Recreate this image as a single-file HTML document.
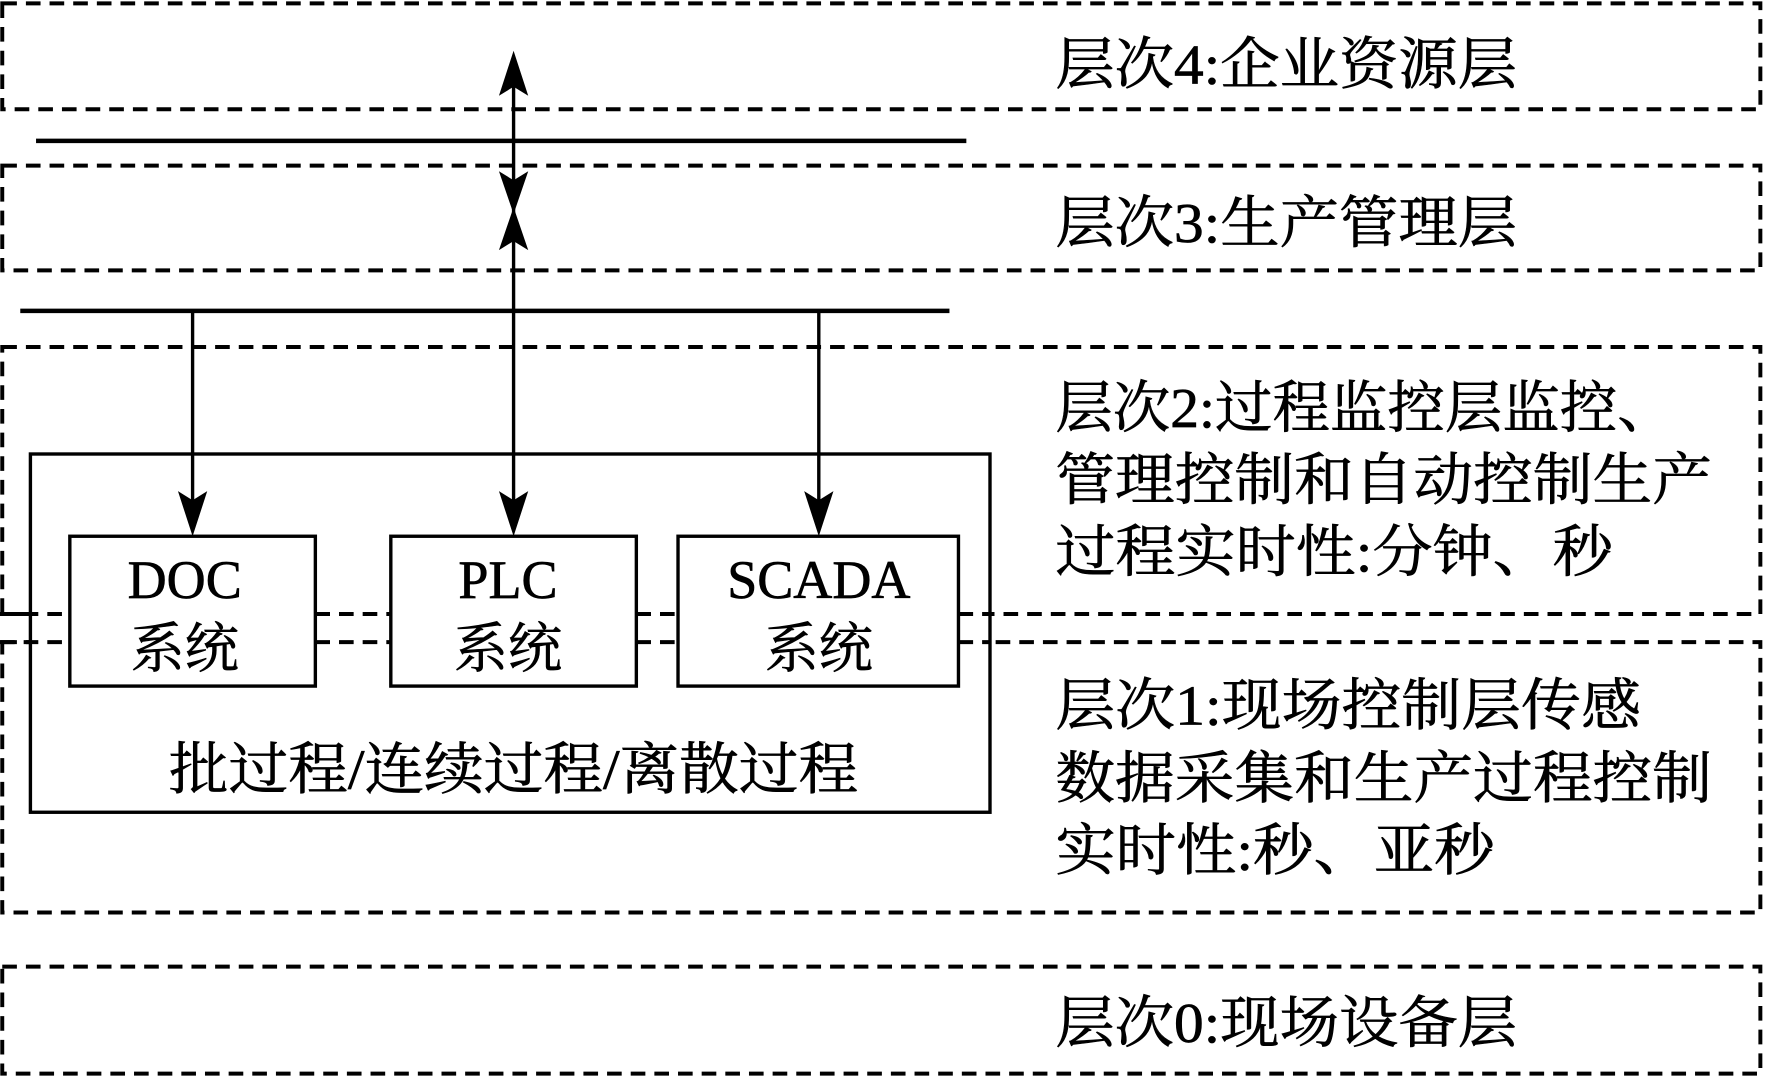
<!DOCTYPE html>
<html><head><meta charset="utf-8"><style>
html,body{margin:0;padding:0;background:#fff;}
svg{display:block;}
text{font-family:"Liberation Serif","Noto Serif CJK SC",serif;fill:#000;stroke:#000;stroke-width:0.6;}
</style></head><body>
<svg width="1766" height="1077" viewBox="0 0 1568 956" preserveAspectRatio="none" xmlns="http://www.w3.org/2000/svg">
<g fill="none" stroke="#000" stroke-width="3.5" stroke-dasharray="13,8">
<rect x="2" y="3" width="1561" height="94"/>
<rect x="2" y="147" width="1561" height="93"/>
<rect x="2" y="308" width="1561" height="237"/>
<rect x="2" y="570" width="1561" height="240"/>
<rect x="2" y="858" width="1561" height="95"/>
</g>
<g stroke="#000" stroke-width="4">
<line x1="32" y1="125" x2="858" y2="125"/>
<line x1="18" y1="276" x2="843" y2="276"/>
</g>
<rect x="27" y="403" width="852" height="318" fill="#fff" stroke="#000" stroke-width="3"/>
<g fill="#fff" stroke="#000" stroke-width="3">
<rect x="62" y="476" width="218" height="133"/>
<rect x="347" y="476" width="218" height="133"/>
<rect x="602" y="476" width="249" height="133"/>
</g>
<g stroke="#000" stroke-width="3.5" stroke-dasharray="13,8">
<line x1="0" y1="545" x2="62" y2="545"/><line x1="0" y1="570" x2="62" y2="570"/>
<line x1="280" y1="545" x2="347" y2="545"/><line x1="280" y1="570" x2="347" y2="570"/>
<line x1="565" y1="545" x2="602" y2="545"/><line x1="565" y1="570" x2="602" y2="570"/>
<line x1="851" y1="545" x2="880" y2="545"/><line x1="851" y1="570" x2="880" y2="570"/>
</g>
<g stroke="#000" stroke-width="3">
<line x1="171" y1="276" x2="171" y2="450"/>
<line x1="727" y1="276" x2="727" y2="450"/>
<line x1="456" y1="70" x2="456" y2="450"/>
</g>
<g fill="#000">
<polygon points="171,476 158,436 171,444 184,436"/>
<polygon points="727,476 714,436 727,444 740,436"/>
<polygon points="456,476 443,436 456,444 469,436"/>
<polygon points="456,45 443,85 456,77 469,85"/>
<polygon points="456,190 443,152 456,160 469,152"/>
<polygon points="456,184 443,222 456,214 469,222"/>
</g>
<g font-size="50">
<text x="937" y="74" textLength="410" lengthAdjust="spacingAndGlyphs">层次4:企业资源层</text>
<text x="937" y="215" textLength="410" lengthAdjust="spacingAndGlyphs">层次3:生产管理层</text>
<text x="937" y="379" textLength="550" lengthAdjust="spacingAndGlyphs">层次2:过程监控层监控、</text>
<text x="937" y="443" textLength="583" lengthAdjust="spacingAndGlyphs">管理控制和自动控制生产</text>
<text x="937" y="507" textLength="495" lengthAdjust="spacingAndGlyphs">过程实时性:分钟、秒</text>
<text x="937" y="643" textLength="520" lengthAdjust="spacingAndGlyphs">层次1:现场控制层传感</text>
<text x="937" y="708" textLength="583" lengthAdjust="spacingAndGlyphs">数据采集和生产过程控制</text>
<text x="937" y="772" textLength="390" lengthAdjust="spacingAndGlyphs">实时性:秒、亚秒</text>
<text x="937" y="925" textLength="410" lengthAdjust="spacingAndGlyphs">层次0:现场设备层</text>
<text x="150" y="700" textLength="612" lengthAdjust="spacingAndGlyphs">批过程/连续过程/离散过程</text>
</g>
<g font-size="48" text-anchor="middle">
<text x="164" y="531">DOC</text>
<text x="164" y="592">系统</text>
<text x="451" y="531">PLC</text>
<text x="451" y="592">系统</text>
<text x="727" y="531">SCADA</text>
<text x="727" y="592">系统</text>
</g>
</svg>
</body></html>
